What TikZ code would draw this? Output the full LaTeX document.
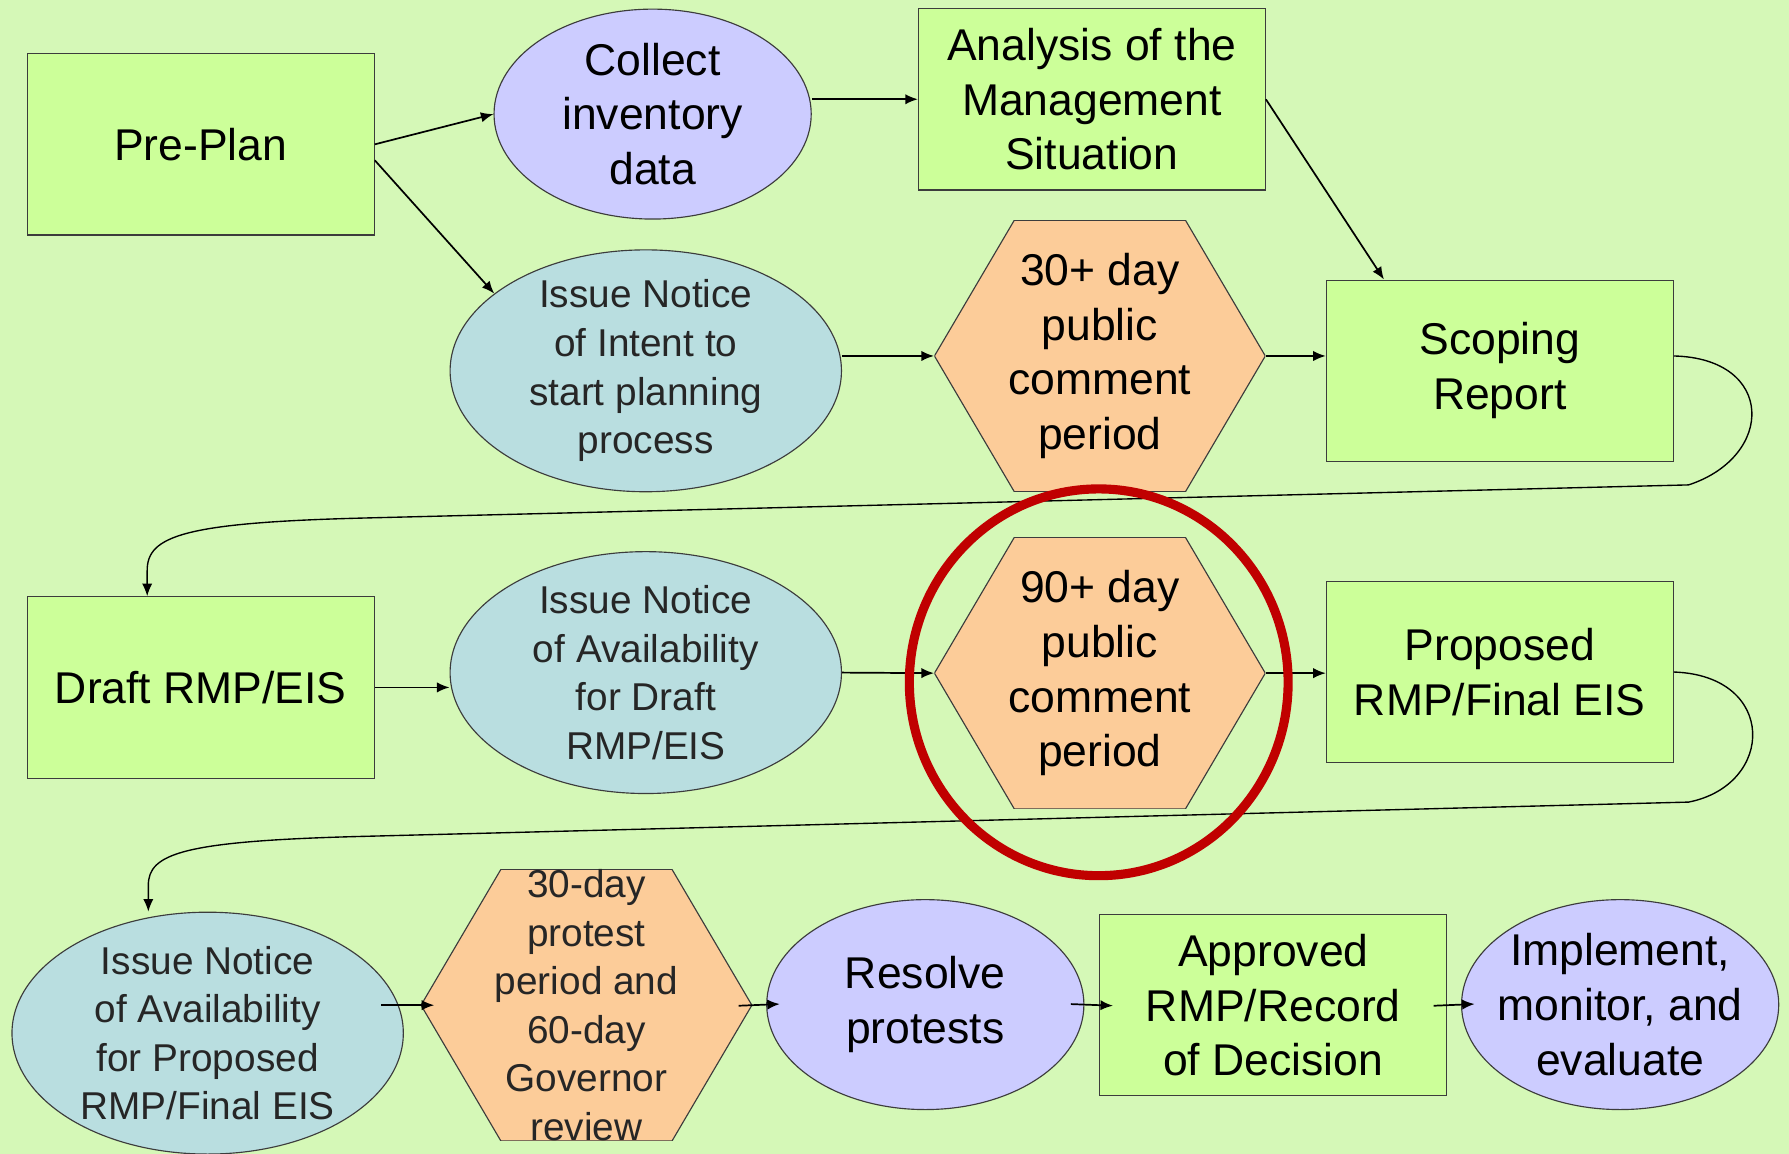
\documentclass[tikz,border=0pt]{standalone}
\usepackage{fontspec}
\setmainfont{Liberation Sans}
\usetikzlibrary{shapes.geometric,arrows.meta}

\definecolor{bggreen}{RGB}{213,248,183}
\definecolor{boxgreen}{RGB}{204,255,153}
\definecolor{lavender}{RGB}{204,204,255}
\definecolor{paleblue}{RGB}{185,222,224}
\definecolor{peach}{RGB}{252,204,153}
\definecolor{ringred}{RGB}{192,0,0}
\definecolor{edgegray}{RGB}{60,60,60}

\begin{document}
\begin{tikzpicture}[x=0.5pt, y=-0.5pt, >={Latex[length=5.5pt,width=4.5pt]},
	big/.style={font=\fontsize{19.5}{24}\selectfont},
	small/.style={font=\fontsize{17}{21.3}\selectfont, text=black!85},
	stage/.style={rectangle, draw=edgegray, line width=0.5pt, fill=boxgreen,
		minimum width=152pt, minimum height=79.5pt, align=center, big},
	task/.style={ellipse, draw=edgegray, line width=0.5pt, fill=lavender,
		minimum width=139pt, minimum height=92pt, inner sep=-20pt, align=center, big},
	notice/.style={ellipse, draw=edgegray, line width=0.5pt, fill=paleblue,
		minimum width=171.5pt, minimum height=106pt, inner sep=-20pt, align=center, small},
	period/.style={rectangle, minimum width=145pt, minimum height=119pt, inner sep=0pt, align=center,
		path picture={\filldraw[fill=peach, draw=edgegray, line width=0.5pt]
			([xshift=-72.5pt]path picture bounding box.center)
			-- ([xshift=-37.5pt,yshift=59.5pt]path picture bounding box.center)
			-- ([xshift=37.5pt,yshift=59.5pt]path picture bounding box.center)
			-- ([xshift=72.5pt]path picture bounding box.center)
			-- ([xshift=37.5pt,yshift=-59.5pt]path picture bounding box.center)
			-- ([xshift=-37.5pt,yshift=-59.5pt]path picture bounding box.center) -- cycle;}},
	flow/.style={->, line width=0.75pt},
	shortlink/.style={flow, shorten <=-6pt, shorten >=-6pt},
	wrap/.style={->, line width=0.6pt}]

	\useasboundingbox (0,0) rectangle (1568,1011);
	\fill[bggreen] (0,0) rectangle (1568,1011);

	% first row
	\node[stage] (preplan) at (176,126.5) {Pre-Plan};
	\node[task] (collect) at (572,100) {Collect\\inventory\\data};
	\node[stage] (analysis) at (957,87) {Analysis of the\\Management\\Situation};
	\node[notice] (intent) at (566,325) {Issue Notice\\of Intent to\\start planning\\process};
	\node[period, big] (comment30) at (964,312) {30+ day\\public\\comment\\period};
	\node[stage] (scoping) at (1314.5,325) {Scoping\\Report};

	% second row
	\node[stage] (draft) at (176,602.5) {Draft RMP/EIS};
	\node[notice] (availdraft) at (566,589.5) {Issue Notice\\of Availability\\for Draft\\RMP/EIS};
	\node[period, big] (comment90) at (964,590) {90+ day\\public\\comment\\period};
	\node[stage] (proposed) at (1314.5,589) {Proposed\\RMP/Final EIS};

	% third row
	\node[notice] (availfinal) at (182,905.5) {Issue Notice\\of Availability\\for Proposed\\RMP/Final EIS};
	\node[period, small] (protest) at (514,881) {30-day\\protest\\period and\\60-day\\Governor\\review};
	\node[task] (resolve) at (811,880.5) {Resolve\\protests};
	\node[stage] (approved) at (1116,881) {Approved\\RMP/Record\\of Decision};
	\node[task] (implement) at (1420,880.5) {Implement,\\monitor, and\\evaluate};

	\draw[flow] (preplan.east) -- (collect.west);
	\draw[flow] ([yshift=-7pt]preplan.east) -- (intent.153);
	\draw[flow] (collect.east |- analysis.west) -- (analysis.west);
	\draw[flow] (analysis.east) -- ([xshift=-50.75pt]scoping.north);
	\draw[flow] (intent.east |- comment30.west) -- (comment30.west);
	\draw[flow] (comment30.east) -- (comment30.east -| scoping.west);

	\draw[wrap] (comment30.east -| scoping.east) .. controls (1556,314) and (1556,400) .. (1480,425)
		-- (320,454) .. controls (160,458) and (129,470) .. (129,500) -- ([xshift=-23.5pt]draft.north);

	\draw[flow] (draft.east) -- (draft.east -| availdraft.west);
	\draw[flow] (availdraft.east) -- (comment90.west);
	\draw[flow] (comment90.east) -- (comment90.east -| proposed.west);

	\draw[wrap] (proposed.east) .. controls (1558,592) and (1556,688) .. (1480,703)
		-- (320,733) .. controls (160,737) and (130,748) .. (130,776) -- ([xshift=-26pt]availfinal.north);

	\draw[shortlink] ([xshift=-4pt]availfinal.east |- protest.west) -- (protest.west);
	\draw[shortlink] (protest.east) -- (resolve.west);
	\draw[shortlink] (resolve.east) -- (approved.west);
	\draw[shortlink] (approved.east) -- (implement.west);

	% highlight ring
	\node[ellipse, draw=ringred, line width=4pt, minimum width=166pt, minimum height=169.5pt] (ring) at (963,598) {};
\end{tikzpicture}
\end{document}
